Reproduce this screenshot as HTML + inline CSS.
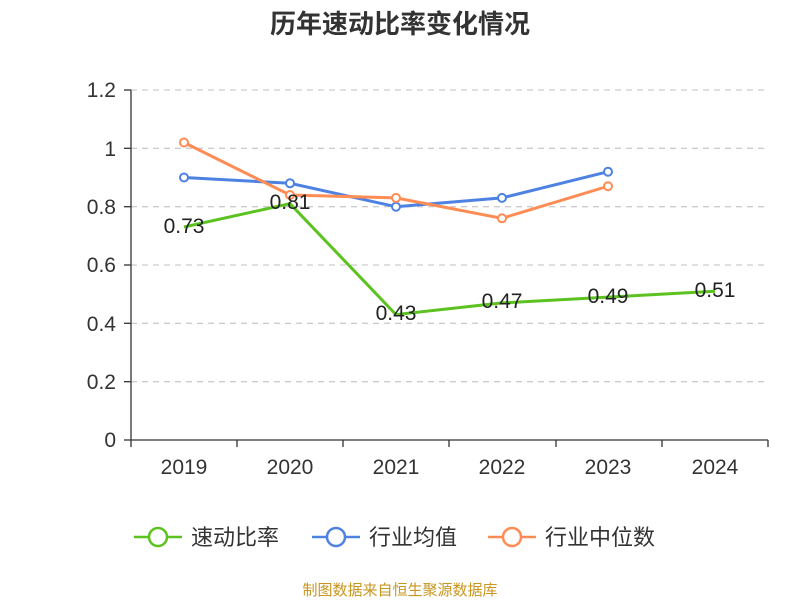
<!DOCTYPE html>
<html><head><meta charset="utf-8"><style>body{margin:0;background:#fff}svg{display:block}</style></head><body>
<svg width="800" height="600" xmlns="http://www.w3.org/2000/svg" font-family="'Liberation Sans','Noto Sans CJK SC',sans-serif">
<text x="400" y="33" text-anchor="middle" font-size="26" font-weight="bold" fill="#333">历年速动比率变化情况</text>
<g stroke="#ccc" stroke-dasharray="6,5" stroke-width="1.3">
<line x1="131" x2="768" y1="90" y2="90"/><line x1="131" x2="768" y1="148.3" y2="148.3"/><line x1="131" x2="768" y1="206.7" y2="206.7"/><line x1="131" x2="768" y1="265" y2="265"/><line x1="131" x2="768" y1="323.3" y2="323.3"/><line x1="131" x2="768" y1="381.7" y2="381.7"/>
</g>
<g stroke="#333" stroke-width="1.3">
<line x1="131" x2="131" y1="90" y2="440"/><line x1="131" x2="768" y1="440" y2="440"/>
<line x1="124" x2="131" y1="90" y2="90"/><line x1="124" x2="131" y1="148.3" y2="148.3"/><line x1="124" x2="131" y1="206.7" y2="206.7"/><line x1="124" x2="131" y1="265" y2="265"/><line x1="124" x2="131" y1="323.3" y2="323.3"/><line x1="124" x2="131" y1="381.7" y2="381.7"/><line x1="124" x2="131" y1="440" y2="440"/>
<line x1="131" x2="131" y1="440" y2="447"/><line x1="237" x2="237" y1="440" y2="447"/><line x1="343" x2="343" y1="440" y2="447"/><line x1="449" x2="449" y1="440" y2="447"/><line x1="556" x2="556" y1="440" y2="447"/><line x1="662" x2="662" y1="440" y2="447"/><line x1="768" x2="768" y1="440" y2="447"/>
</g>
<g font-size="21" fill="#333" text-anchor="end">
<text x="116" y="97">1.2</text><text x="116" y="156">1</text><text x="116" y="214">0.8</text><text x="116" y="272">0.6</text><text x="116" y="331">0.4</text><text x="116" y="389">0.2</text><text x="116" y="447">0</text>
</g>
<g font-size="21" fill="#333" text-anchor="middle">
<text x="184" y="474">2019</text><text x="290" y="474">2020</text><text x="396" y="474">2021</text><text x="502" y="474">2022</text><text x="608" y="474">2023</text><text x="715" y="474">2024</text>
</g>
<g fill="none" stroke-width="3">
<polyline stroke="#4e82e2" points="184,177.5 290,183.3 396,206.7 502,197.9 608,171.7"/>
<polyline stroke="#ff8c54" points="184,142.5 290,195 396,197.9 502,218.3 608,186.25"/>
<polyline stroke="#5cc21f" points="184,227 290,203.7 396,314.6 502,302.9 608,297.1 715,291.25"/>
</g>
<g fill="#fff" stroke-width="2">
<g stroke="#4e82e2"><circle cx="184" cy="177.5" r="4"/><circle cx="290" cy="183.3" r="4"/><circle cx="396" cy="206.7" r="4"/><circle cx="502" cy="197.9" r="4"/><circle cx="608" cy="171.7" r="4"/></g>
<g stroke="#ff8c54"><circle cx="184" cy="142.5" r="4"/><circle cx="290" cy="195" r="4"/><circle cx="396" cy="197.9" r="4"/><circle cx="502" cy="218.3" r="4"/><circle cx="608" cy="186.25" r="4"/></g>
</g>
<g font-size="21" fill="#222" text-anchor="middle">
<text x="184" y="233">0.73</text><text x="290" y="209">0.81</text><text x="396" y="320">0.43</text><text x="502" y="308">0.47</text><text x="608" y="303">0.49</text><text x="715" y="297">0.51</text>
</g>
<g stroke-width="2.5" fill="#fff">
<line x1="134" x2="182" y1="537" y2="537" stroke="#5cc21f"/><circle cx="158" cy="537" r="9" stroke="#5cc21f"/>
<line x1="312" x2="360" y1="537" y2="537" stroke="#4e82e2"/><circle cx="336" cy="537" r="9" stroke="#4e82e2"/>
<line x1="488" x2="536" y1="537" y2="537" stroke="#ff8c54"/><circle cx="512" cy="537" r="9" stroke="#ff8c54"/>
</g>
<g font-size="22" fill="#333">
<text x="191" y="545">速动比率</text><text x="369" y="545">行业均值</text><text x="545" y="545">行业中位数</text>
</g>
<text x="400" y="595" text-anchor="middle" font-size="15" fill="#c8961e">制图数据来自恒生聚源数据库</text>
</svg>
</body></html>
